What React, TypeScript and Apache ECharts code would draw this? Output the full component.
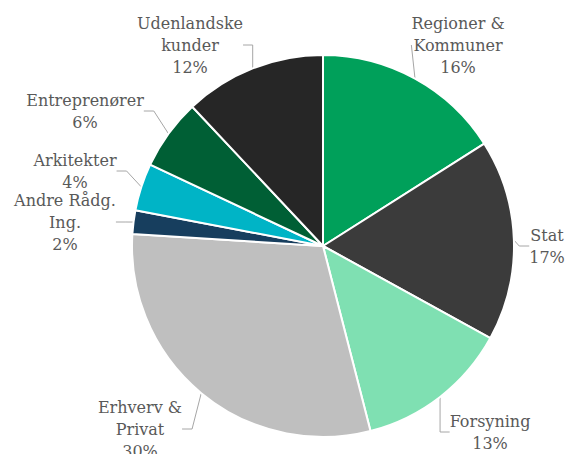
import React, { useEffect, useRef } from "react";
import * as echarts from "echarts";

const categories = [
  "Regioner &\nKommuner",
  "Stat",
  "Forsyning",
  "Erhverv &\nPrivat",
  "Andre Rådg.\nIng.",
  "Arkitekter",
  "Entreprenører",
  "Udenlandske\nkunder",
];
const shares = [16, 17, 13, 30, 2, 4, 6, 12];
const colors = ["#00A05A", "#3B3B3B", "#7FE0B2", "#BFBFBF", "#173E5E", "#00B4C6", "#005F35", "#262626"];

// label block centres (layout only)
const labelPos: [number, number][] = [
  [458, 45],
  [547, 246],
  [490, 432],
  [140, 429],
  [65, 222],
  [75, 171],
  [85, 111],
  [190, 45],
];

export default function App() {
  const ref = useRef<HTMLDivElement>(null);
  useEffect(() => {
    const chart = echarts.init(ref.current!, null, { renderer: "svg" });
    chart.setOption({
      animation: false,
      backgroundColor: "#ffffff",
      series: [
        {
          type: "pie",
          center: [323, 246],
          radius: 191,
          startAngle: 90,
          clockwise: true,
          data: categories.map((name, i) => ({
            name,
            value: shares[i],
            itemStyle: { color: colors[i] },
          })),
          itemStyle: { borderColor: "#ffffff", borderWidth: 2 },
          label: {
            show: true,
            formatter: "{b}\n{c}%",
            fontFamily: "DejaVu Serif",
            fontSize: 16,
            lineHeight: 22,
            color: "#595959",
            align: "center",
            overflow: "none",
          },
          labelLine: {
            show: true,
            length: 10,
            length2: 10,
            lineStyle: { color: "#A6A6A6", width: 1 },
          },
          labelLayout: (params: any) => {
            const p = labelPos[params.dataIndex];
            return { x: p[0], y: p[1], align: "center", verticalAlign: "middle" };
          },
        },
      ],
    });
    return () => chart.dispose();
  }, []);
  return <div ref={ref} style={{ position: "fixed", left: 0, top: 0, width: 568, height: 454 }} />;
}
